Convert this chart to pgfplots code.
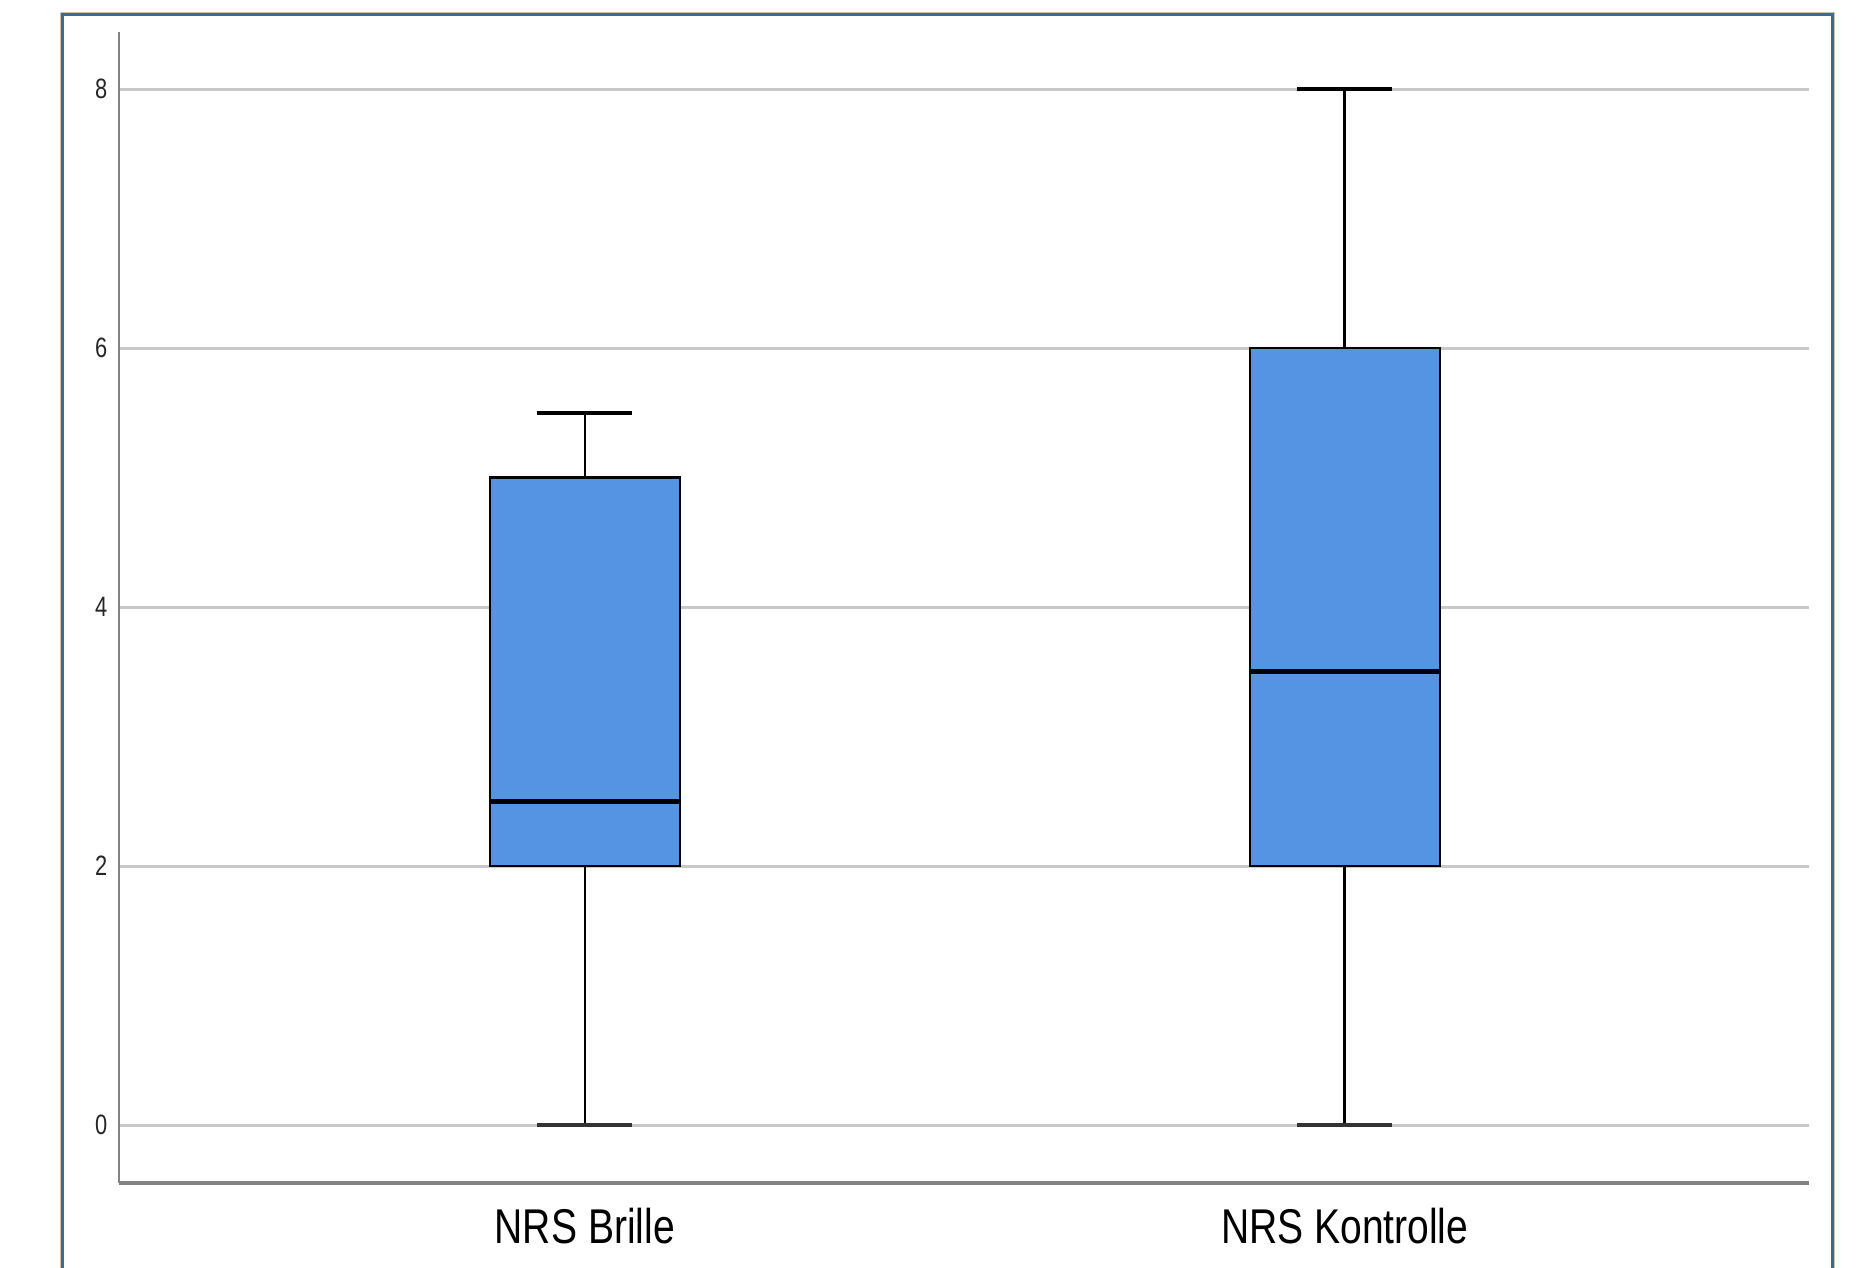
\documentclass[border=0pt]{standalone}
\usepackage{graphicx}
\usepackage{fontspec}
\setmainfont{Liberation Sans}
\usepackage{pgfplots}
\pgfplotsset{compat=1.18}
\usepgfplotslibrary{statistics}
\definecolor{boxblue}{RGB}{84,148,227}
\definecolor{framecol}{RGB}{58,108,140}
\definecolor{frametan}{RGB}{205,195,165}
\definecolor{axisgray}{RGB}{130,130,130}
\definecolor{gridgray}{RGB}{200,200,200}
\begin{document}
\begin{tikzpicture}[x=1pt,y=1pt]
\useasboundingbox (0,0) rectangle (465,-316.75);
\fill[white] (0,0) rectangle (465,-316.75);
\draw[frametan, line width=0.3pt] (15.2,-400) -- (15.2,-3.2) -- (458.6,-3.2) -- (458.6,-400);
\draw[framecol, line width=0.7pt] (15.7,-400) -- (15.7,-3.7) -- (458.1,-3.7) -- (458.1,-400);
\begin{axis}[
  at={(29.75pt,-295.75pt)}, anchor=south west,
  scale only axis, width=422.5pt, height=287.75pt,
  xmin=0.387, xmax=2.611, ymin=-0.448, ymax=8.44,
  axis x line*=bottom, axis y line*=left,
  axis line style={-},
  x axis line style={draw=axisgray, line width=0.8pt},
  y axis line style={draw=axisgray, line width=0.5pt},
  xtick={1,2},
  xticklabels={\scalebox{0.8}[1]{NRS Brille}, \scalebox{0.8}[1]{NRS Kontrolle}},
  ytick={0,2,4,6,8},
  yticklabel={\scalebox{0.78}[1]{\pgfmathprintnumber{\tick}}},
  /pgf/number format/assume math mode=true,
  major tick length=0pt,
  ymajorgrids,
  grid style={gridgray, line width=0.75pt},
  xticklabel style={font=\fontsize{12.2}{14}\selectfont, inner sep=0pt, yshift=-6pt, anchor=north, text=black},
  yticklabel style={font=\fontsize{7}{8}\selectfont, inner sep=0pt, xshift=-2.75pt, anchor=east, text=black!85},
  boxplot/draw direction=y,
  boxplot/box extend=0.25,
  boxplot/whisker extend=0.125,
  boxplot/every median/.style={draw=black, line width=1.2pt},
  boxplot/every box/.style={draw=black, fill=boxblue, line width=0.55pt},
  boxplot/draw/lower whisker/.code={
    \draw[black, line width=0.65pt] (boxplot box cs:\pgfplotsboxplotvalue{lower quartile},0.5) -- (boxplot box cs:\pgfplotsboxplotvalue{lower whisker},0.5);
    \draw[black!80, line width=1pt] (boxplot whisker cs:\pgfplotsboxplotvalue{lower whisker},0) -- (boxplot whisker cs:\pgfplotsboxplotvalue{lower whisker},1);
  },
  boxplot/draw/upper whisker/.code={
    \draw[black, line width=0.65pt] (boxplot box cs:\pgfplotsboxplotvalue{upper quartile},0.5) -- (boxplot box cs:\pgfplotsboxplotvalue{upper whisker},0.5);
    \draw[black, line width=1pt] (boxplot whisker cs:\pgfplotsboxplotvalue{upper whisker},0) -- (boxplot whisker cs:\pgfplotsboxplotvalue{upper whisker},1);
  },
]
\addplot[boxplot prepared={draw position=1, lower whisker=0, lower quartile=2, median=2.5, upper quartile=5, upper whisker=5.5}, draw=black, fill=boxblue] coordinates {};
\addplot[boxplot prepared={draw position=2, lower whisker=0, lower quartile=2, median=3.5, upper quartile=6, upper whisker=8}, draw=black, fill=boxblue] coordinates {};
\end{axis}
\end{tikzpicture}
\end{document}
